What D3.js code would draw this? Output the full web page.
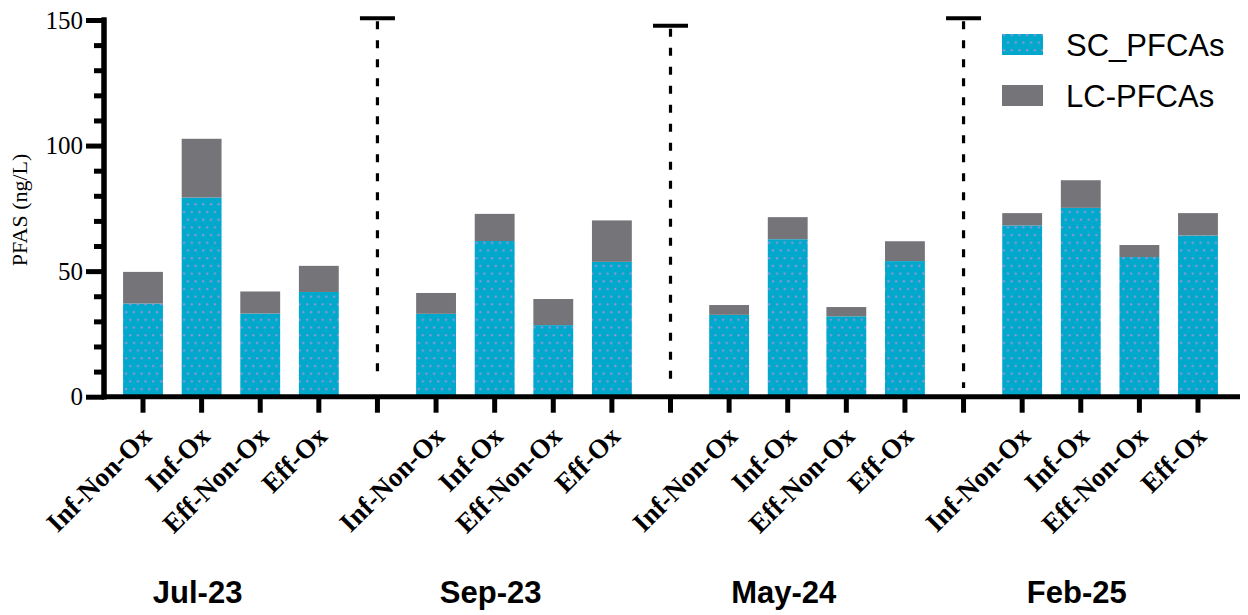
<!DOCTYPE html>
<html><head><meta charset="utf-8">
<script src="https://cdn.jsdelivr.net/npm/d3@7"></script>
<style>body{margin:0;background:#fff}</style>
</head><body>
<svg id="c" width="1248" height="615"></svg>
<script>
const groups = ["Jul-23", "Sep-23", "May-24", "Feb-25"];
const categories = ["Inf-Non-Ox", "Inf-Ox", "Eff-Non-Ox", "Eff-Ox"];
// SC_PFCAs (bottom segment), per group in category order
const scValues = [
  [37.1, 79.3, 33.1, 41.7],
  [33.0, 62.0, 28.5, 53.7],
  [32.6, 62.7, 32.0, 54.0],
  [68.2, 75.2, 55.6, 64.2]
];
// LC-PFCAs (top segment)
const lcValues = [
  [12.6, 23.4, 8.8, 10.4],
  [8.3, 10.8, 10.4, 16.5],
  [3.9, 8.8, 3.7, 7.9],
  [4.9, 11.0, 4.8, 8.9]
];
// dashed separators between groups (low / high values)
const sepLow = [9.8, 4.3, 3.5];
const sepHigh = [150.7, 147.7, 150.7];
const yTicks = [0, 50, 100, 150];
const yMinorTicks = [10, 20, 30, 40, 60, 70, 80, 90, 110, 120, 130, 140];
const seriesNames = ["SC_PFCAs", "LC-PFCAs"];
const colors = ["#00a8cc", "#757479"];

const svg = d3.select("#c");
// slots
const slots = [];
groups.forEach((g, gi) => {
  categories.forEach((c, ci) => slots.push({key: g + "|" + c, g: gi, c: ci, type: "bar"}));
  if (gi < groups.length - 1) slots.push({key: "sep" + gi, g: gi, type: "sep"});
});
const x = d3.scaleBand().domain(slots.map(d => d.key)).range([113.7, 1227.3]).paddingInner(0.32).paddingOuter(0.16);
const y = d3.scaleLinear().domain([0, 150]).range([396.7, 20]);

const defs = svg.append("defs");
const pat = defs.append("pattern").attr("id", "dots").attr("patternUnits", "userSpaceOnUse")
  .attr("width", 15.4).attr("height", 15.4);
pat.append("rect").attr("width", 15.4).attr("height", 15.4).attr("fill", colors[0]);
[[3, 4], [10.7, 4], [7, 11.7], [14.7, 11.7], [-0.7, 11.7]].forEach(p =>
  pat.append("circle").attr("cx", p[0]).attr("cy", p[1]).attr("r", 1.2).attr("fill", "#8d96d6"));

// bars
const barData = slots.filter(d => d.type === "bar").map(d => ({
  key: d.key, sc: scValues[d.g][d.c], lc: lcValues[d.g][d.c]
}));
const stack = d3.stack().keys(["sc", "lc"])(barData);
svg.append("g").selectAll("g").data(stack).join("g")
  .attr("fill", (s, i) => i === 0 ? "url(#dots)" : colors[1])
  .selectAll("rect").data(s => s).join("rect")
  .attr("x", d => x(d.data.key)).attr("width", x.bandwidth())
  .attr("y", d => y(d[1])).attr("height", d => y(d[0]) - y(d[1]));

// separators
const sepSlots = slots.filter(d => d.type === "sep");
const sepG = svg.append("g");
sepSlots.forEach((s, i) => {
  const cx = x(s.key) + x.bandwidth() / 2;
  sepG.append("line").attr("x1", cx).attr("x2", cx).attr("y1", y(sepHigh[i])).attr("y2", y(sepLow[i]))
    .attr("stroke", "#000").attr("stroke-width", 3.2).attr("stroke-dasharray", "8,11")
    .attr("stroke-dashoffset", -3);
  sepG.append("line").attr("x1", cx - 17.5).attr("x2", cx + 17.5).attr("y1", y(sepHigh[i])).attr("y2", y(sepHigh[i]))
    .attr("stroke", "#000").attr("stroke-width", 4);
});

// y axis
const yAxisG = svg.append("g").attr("transform", "translate(104,0)");
yAxisG.call(d3.axisLeft(y).tickValues(yTicks).tickSize(18).tickPadding(3).tickFormat(d3.format("d")));
yAxisG.append("g").call(d3.axisLeft(y).tickValues(yMinorTicks).tickSize(10).tickFormat(""));
yAxisG.selectAll(".domain").attr("stroke", "#000").attr("stroke-width", 5).attr("d", `M0,${y(0)+2.5}V${y(150)-2.5}`);
yAxisG.selectAll(".tick line").attr("stroke", "#000").attr("stroke-width", 5);
yAxisG.selectAll("text").attr("font-family", "Liberation Serif, serif").attr("font-size", 25).attr("fill", "#000");

// x axis
const xAxisG = svg.append("g").attr("transform", `translate(0,${y(0)})`);
xAxisG.call(d3.axisBottom(x).tickSize(16).tickFormat(""));
xAxisG.selectAll(".domain").attr("stroke", "#000").attr("stroke-width", 5).attr("d", "M101.5,0H1240");
xAxisG.selectAll(".tick line").attr("stroke", "#000").attr("stroke-width", 5);

// x tick labels
slots.filter(d => d.type === "bar").forEach(d => {
  const cx = x(d.key) + x.bandwidth() / 2;
  svg.append("text").attr("transform", `translate(${cx + 10},${438}) rotate(-45)`)
    .attr("text-anchor", "end").attr("font-family", "Liberation Serif, serif")
    .attr("font-weight", "bold").attr("font-size", 27).text(categories[d.c]);
});

// group labels
groups.forEach((g, gi) => {
  const k = g + "|" + categories[1];
  const cx = x(k) + x.bandwidth() / 2 - 4;
  svg.append("text").attr("x", cx).attr("y", 603).attr("text-anchor", "middle")
    .attr("font-family", "Liberation Sans, Arial, sans-serif").attr("font-weight", "bold")
    .attr("font-size", 31).text(g);
});

// y title
svg.append("text").attr("transform", "translate(27,210) rotate(-90)").attr("text-anchor", "middle")
  .attr("font-family", "Liberation Serif, serif").attr("font-size", 22).text("PFAS (ng/L)");

// legend
const leg = svg.append("g");
seriesNames.forEach((n, i) => {
  leg.append("rect").attr("x", 1002).attr("y", 34 + i * 51).attr("width", 41).attr("height", 21)
    .attr("fill", i === 0 ? "url(#dots)" : colors[1]);
  leg.append("text").attr("x", 1066).attr("y", 56 + i * 51)
    .attr("font-family", "Liberation Sans, Arial, sans-serif").attr("font-size", 31).text(n);
});
</script>
</body></html>
